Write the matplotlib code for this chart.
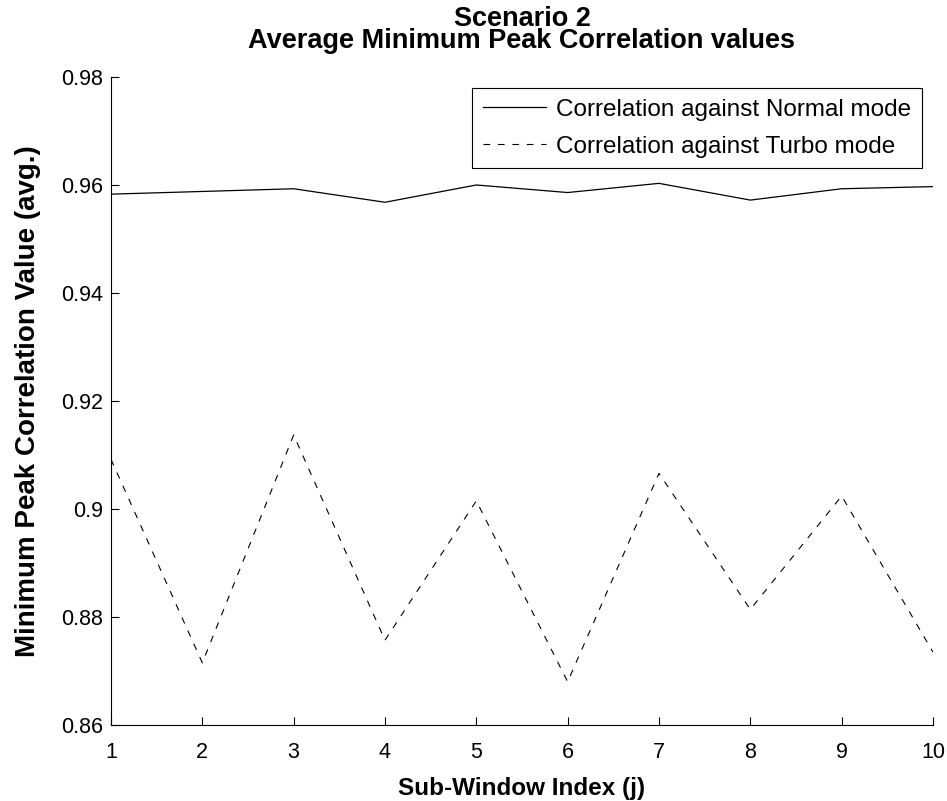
import matplotlib
matplotlib.use("Agg")
import matplotlib.pyplot as plt
import numpy as np

# values
window_idx = [1, 2, 3, 4, 5, 6, 7, 8, 9, 10]
normal_corr = [0.9583, 0.9588, 0.9593, 0.9568, 0.9600, 0.9586, 0.9603, 0.9572, 0.9593, 0.9597]
turbo_corr = [0.9092, 0.8715, 0.9137, 0.8757, 0.9015, 0.8680, 0.9066, 0.8814, 0.9024, 0.8735]
y_ticks = [0.86, 0.88, 0.9, 0.92, 0.94, 0.96, 0.98]
y_tick_labels = ['0.86', '0.88', '0.9', '0.92', '0.94', '0.96', '0.98']

plt.rcParams['font.family'] = ['Liberation Sans', 'DejaVu Sans']

fig = plt.figure(figsize=(9.47, 8.01), dpi=100)
ax = fig.add_axes([0.1172, 0.0949, 0.868, 0.809])

ax.plot(window_idx, normal_corr, color='black', lw=0.9, label='Correlation against Normal mode')
ax.plot(window_idx, turbo_corr, color='black', lw=0.8, dashes=(6, 7),
        label='Correlation against Turbo mode')

ax.set_xlim(1, 10)
ax.set_ylim(0.86, 0.98)
ax.set_xticks(window_idx)
ax.set_yticks(y_ticks)
ax.set_yticklabels(y_tick_labels)

# matlab look: box off, ticks pointing in
ax.spines['top'].set_visible(False)
ax.spines['right'].set_visible(False)
ax.tick_params(direction='in', length=6, width=0.8, labelsize=15.5)
ax.tick_params(axis='x', pad=12)
ax.tick_params(axis='y', pad=6)

ax.set_xlabel('Sub-Window Index (j)', fontsize=17.5, fontweight='bold', labelpad=10)
ax.set_ylabel('Minimum Peak Correlation Value (avg.)', fontsize=20, fontweight='bold', labelpad=14)
ax.set_title('Scenario 2\nAverage Minimum Peak Correlation values',
             fontsize=19.5, fontweight='bold', linespacing=0.8, pad=21)

leg = ax.legend(loc='upper right', fontsize=17.5, handlelength=2.6, handletextpad=0.4,
                fancybox=False, framealpha=1, edgecolor='black', borderpad=0.45,
                labelspacing=0.6, borderaxespad=0, bbox_to_anchor=(0.9866, 0.983))
leg.get_frame().set_linewidth(0.8)

fig.savefig('out.png', dpi=100)
